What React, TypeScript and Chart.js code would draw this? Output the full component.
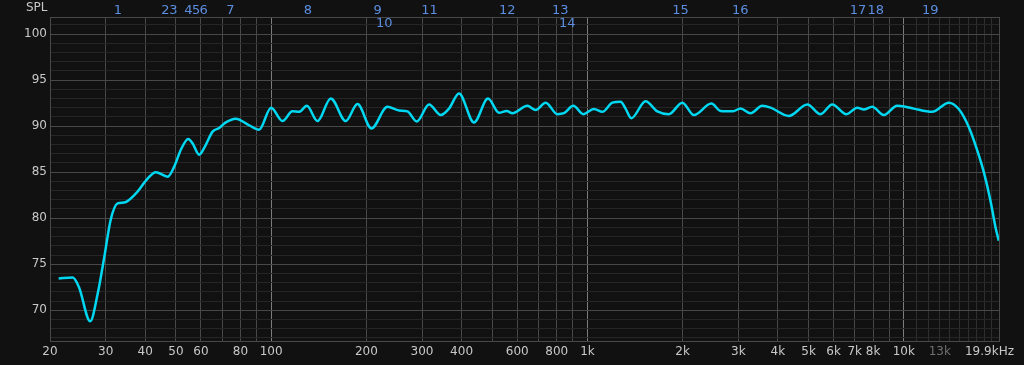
import React, { useEffect, useRef } from 'react';
import { Chart, registerables } from 'chart.js';

Chart.register(...registerables);

// ---- Data ----
const FREQ_HZ = [21.3, 23.6, 24.7, 26.8, 28.3, 29.7, 31.1, 32.7, 34.3, 37.4, 40.7, 43.2, 47.1, 49.4, 51.8, 54.7, 56.5, 59.2, 61.7, 65.3, 68.5, 71.9, 77.3, 84.2, 91.6, 100, 108.6, 116.8, 122.6, 129.7, 140.2, 154.4, 172.2, 187.5, 207.6, 233.2, 253.8, 269.8, 288.7, 315.7, 343.8, 365.1, 392.6, 437.9, 485, 525.3, 555.5, 579, 645.9, 686, 737.9, 803.4, 843, 902.4, 970.5, 1048, 1115, 1199, 1273, 1320, 1376, 1527, 1663, 1809, 1995, 2170, 2464, 2636, 2871, 3048, 3279, 3570, 3793, 4332, 4953, 5458, 5939, 6592, 7125, 7475, 7947, 8647, 9530, 10125, 10755, 12293, 13877, 14920, 16048, 17059, 17893, 18783, 19487, 19965];
const SPL_DB = [73.45, 73.55, 72.5, 68.8, 71.8, 75.8, 79.8, 81.6, 81.7, 82.7, 84.3, 85.0, 84.5, 85.6, 87.4, 88.6, 88.1, 86.9, 87.75, 89.4, 89.8, 90.4, 90.8, 90.2, 89.6, 92.0, 90.55, 91.6, 91.55, 92.2, 90.55, 93.0, 90.55, 92.4, 89.75, 92.1, 91.7, 91.6, 90.5, 92.35, 91.2, 91.9, 93.55, 90.4, 93.0, 91.45, 91.65, 91.4, 92.2, 91.75, 92.55, 91.3, 91.4, 92.2, 91.3, 91.85, 91.55, 92.55, 92.65, 91.9, 90.85, 92.7, 91.6, 91.3, 92.55, 91.2, 92.45, 91.65, 91.6, 91.9, 91.4, 92.2, 92.0, 91.1, 92.35, 91.3, 92.35, 91.3, 92.0, 91.8, 92.1, 91.2, 92.2, 92.1, 91.9, 91.55, 92.55, 91.85, 89.9, 87.4, 85.05, 81.95, 79.05, 77.55];

// Frequency grid lines
const GRID_FREQS = [20, 30, 40, 50, 60, 70, 80, 90, 100, 200, 300, 400, 500, 600, 700, 800, 900, 1000, 2000, 3000, 4000, 5000, 6000, 7000, 8000, 9000, 10000, 11000, 12000, 13000, 14000, 15000, 16000, 17000, 18000, 19000, 20000];
// Frequency tick labels
const X_LABEL_FREQS = [20, 30, 40, 50, 60, 80, 100, 200, 300, 400, 600, 800, 1000, 2000, 3000, 4000, 5000, 6000, 7000, 8000, 10000, 13000, 20000];
const X_LABEL_TEXTS = ['20', '30', '40', '50', '60', '80', '100', '200', '300', '400', '600', '800', '1k', '2k', '3k', '4k', '5k', '6k', '7k', '8k', '10k', '13k', '19.9kHz     '];
const X_MIN = 20;
const X_MAX = 20000;

// SPL axis
const Y_MIN = 66.66;
const Y_MAX = 101.85;
const Y_GRID_STEP = 1;
const Y_LABEL_STEP = 5;

// Band markers along the top
const MARKER_FREQS = [32.8, 46.3, 49.1, 54.8, 57.9, 61.2, 74.4, 130.6, 217, 228, 317, 558, 821, 864, 1970, 3043, 7166, 8157, 12120];
const MARKER_LABELS = ['1', '2', '3', '4', '5', '6', '7', '8', '9', '10', '11', '12', '13', '14', '15', '16', '17', '18', '19'];
const MARKER_ROWS = [1, 1, 1, 1, 1, 1, 1, 1, 1, 2, 1, 1, 1, 2, 1, 1, 1, 1, 1];

const FONT = 'DejaVu Sans';
const BG = '#111111';
const TEXT = '#c8c8c8';
const TEXT_DIM = '#707070';
const GRID_MAJOR = '#484848';
const GRID_MINOR = '#262626';
const GRID_DECADE = '#7c7c7c';
const GRID_HF = '#2e2e2e';
const CURVE = '#00d8f2';
const MARKER_COLOR = '#5b8ee0';

export default function App() {
  const canvasRef = useRef<HTMLCanvasElement | null>(null);

  useEffect(() => {
    document.body.style.margin = '0';
    document.body.style.background = BG;
    const canvas = canvasRef.current;
    if (!canvas) return;

    const points = FREQ_HZ.map((f, i) => ({ x: f, y: SPL_DB[i] }));

    const chart = new Chart(canvas, {
      type: 'line',
      data: {
        datasets: [
          {
            data: points,
            borderColor: CURVE,
            borderWidth: 2.5,
            pointRadius: 0,
            fill: false,
            cubicInterpolationMode: 'monotone',
          },
        ],
      },
      options: {
        responsive: false,
        animation: false,
        events: [],
        layout: { padding: { left: 0, right: 25, top: 0, bottom: 0 } },
        plugins: {
          legend: { display: false },
          tooltip: { enabled: false },
          title: { display: false },
        },
        scales: {
          x: {
            type: 'logarithmic',
            position: 'bottom',
            min: X_MIN,
            max: X_MAX,
            afterBuildTicks: (scale: any) => {
              scale.ticks = GRID_FREQS.map((v) => ({ value: v }));
            },
            afterFit: (scale: any) => {
              scale.height = 24;
              scale.paddingLeft = 0;
              scale.paddingRight = 0;
              scale.paddingTop = 0;
              scale.paddingBottom = 0;
            },
            ticks: {
              autoSkip: false,
              maxRotation: 0,
              minRotation: 0,
              padding: 4,
              font: { family: FONT, size: 12 },
              color: (ctx: any) => (ctx.tick && ctx.tick.value === 13000 ? TEXT_DIM : TEXT),
              callback: (value: any) => {
                const idx = X_LABEL_FREQS.indexOf(Number(value));
                return idx >= 0 ? X_LABEL_TEXTS[idx] : '';
              },
            },
            grid: {
              drawTicks: false,
              lineWidth: 1,
              color: (ctx: any) => {
                const v = ctx.tick ? ctx.tick.value : 0;
                if (v === 100 || v === 1000 || v === 10000) return GRID_DECADE;
                if (v > 10000 && v < 20000) return GRID_HF;
                return GRID_MAJOR;
              },
            },
            border: { display: true, color: GRID_MAJOR },
          },
          x2: {
            type: 'logarithmic',
            axis: 'x',
            position: 'top',
            min: X_MIN,
            max: X_MAX,
            afterBuildTicks: (scale: any) => {
              scale.ticks = MARKER_FREQS.map((v) => ({ value: v }));
            },
            afterFit: (scale: any) => {
              scale.height = 17;
              scale.paddingLeft = 0;
              scale.paddingRight = 0;
              scale.paddingTop = 0;
              scale.paddingBottom = 0;
            },
            ticks: {
              autoSkip: false,
              mirror: true,
              maxRotation: 0,
              minRotation: 0,
              padding: -26,
              color: MARKER_COLOR,
              font: { family: FONT, size: 13, lineHeight: 1 },
              callback: (_value: any, index: number) =>
                MARKER_ROWS[index] === 2 ? ['', MARKER_LABELS[index]] : [MARKER_LABELS[index], ''],
            },
            grid: { drawOnChartArea: false, drawTicks: false },
            border: { display: true, color: GRID_MAJOR },
          },
          y: {
            type: 'linear',
            position: 'left',
            min: Y_MIN,
            max: Y_MAX,
            afterBuildTicks: (scale: any) => {
              const ticks = [];
              for (let v = Math.ceil(Y_MIN); v <= Math.floor(Y_MAX); v += Y_GRID_STEP) ticks.push({ value: v });
              scale.ticks = ticks;
            },
            afterFit: (scale: any) => {
              scale.width = 50;
              scale.paddingTop = 0;
              scale.paddingBottom = 0;
            },
            ticks: {
              autoSkip: false,
              padding: 3,
              font: { family: FONT, size: 12 },
              color: TEXT,
              callback: (value: any) => (Number(value) % Y_LABEL_STEP === 0 ? String(value) : ''),
            },
            grid: {
              drawTicks: false,
              lineWidth: 1,
              color: (ctx: any) => {
                const v = ctx.tick ? ctx.tick.value : 0;
                return v % Y_LABEL_STEP === 0 ? GRID_MAJOR : GRID_MINOR;
              },
            },
            border: { display: true, color: GRID_MAJOR },
          },
        },
      } as any,
    });

    return () => {
      chart.destroy();
    };
  }, []);

  return (
    <div style={{ position: 'relative', width: 1024, height: 365, background: BG }}>
      <canvas ref={canvasRef} width={1024} height={365} style={{ display: 'block' }} />
      <span
        style={{
          position: 'absolute',
          left: 26,
          top: 0,
          font: `12px '${FONT}'`,
          lineHeight: '14px',
          color: TEXT,
          whiteSpace: 'nowrap',
        }}
      >
        SPL
      </span>
    </div>
  );
}
